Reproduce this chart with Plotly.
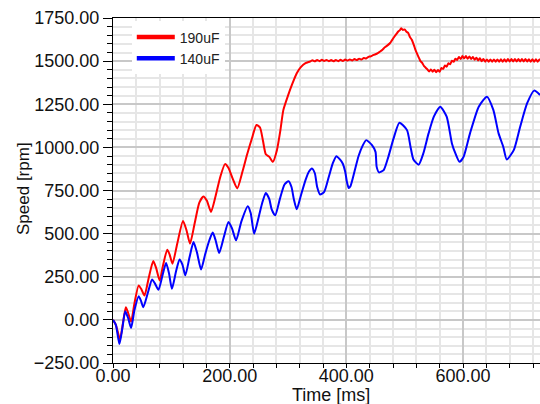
import plotly.graph_objects as go

red_t = [0, 5, 12, 17, 22, 26, 31, 37, 44, 49, 54, 61, 69, 74, 80, 86, 93, 97, 102, 110,
         120, 126, 132, 140, 148, 155, 161, 168, 176, 184, 192, 198, 205, 213, 222, 230,
         238, 246, 252, 257, 262, 268, 274, 281, 287, 292, 300, 307, 315, 322, 330, 338,
         342, 346, 350, 354, 358, 362, 366, 370, 374, 378, 382, 386, 390, 394, 398, 402,
         406, 410, 414, 418, 422, 426, 430, 434, 438, 441, 445, 450, 454, 458, 462, 466,
         470, 475, 478, 482, 486, 489, 492, 494, 497, 500, 503, 506, 509, 512, 515, 518,
         521, 524, 527, 530, 533, 536, 539, 542, 545, 548, 551, 554, 557, 560, 563, 566,
         569, 572, 575, 578, 581, 584, 587, 590, 593, 596, 599, 602, 605, 608, 611, 614,
         617, 620, 623, 626, 629, 632, 635, 638, 641, 644, 647, 650, 653, 656, 659, 662,
         665, 668, 671, 674, 677, 680, 683, 686, 689, 692, 695, 698, 701, 704, 707, 710,
         713, 716, 719, 722, 725, 728, 731, 734]
red_v = [0, -30, -112, -20, 73, 40, -10, 100, 200, 175, 141, 240, 341, 300, 228, 320, 407, 380, 326, 440,
         573, 520, 442, 560, 680, 715, 690, 626, 720, 830, 903, 880, 820, 762, 860, 960,
         1050, 1130, 1115, 1040, 960, 945, 916, 984, 1100, 1216, 1300, 1365, 1430, 1465, 1488, 1498,
         1505, 1499, 1507, 1500, 1508, 1501, 1507, 1500, 1506, 1499, 1507, 1500, 1508, 1501, 1509, 1503,
         1510, 1504, 1512, 1506, 1514, 1509, 1518, 1515, 1525, 1527, 1533, 1540, 1547, 1556, 1566, 1580,
         1590, 1605, 1620, 1640, 1658, 1672, 1680, 1690, 1680, 1684, 1670, 1664, 1640, 1625, 1600, 1570,
         1545, 1522, 1500, 1490, 1472, 1462, 1452, 1440, 1452, 1438, 1450, 1436, 1448, 1438, 1460, 1455,
         1475, 1468, 1488, 1482, 1502, 1496, 1514, 1507, 1524, 1512, 1529, 1516, 1529, 1514, 1527, 1512,
         1524, 1508, 1520, 1504, 1516, 1500, 1512, 1497, 1510, 1496, 1510, 1496, 1510, 1496, 1510, 1497,
         1511, 1497, 1511, 1497, 1512, 1498, 1512, 1498, 1512, 1498, 1512, 1498, 1512, 1498, 1512, 1498,
         1511, 1497, 1511, 1497, 1511, 1497, 1510, 1500]

blue_t = [0, 5, 11, 16, 21, 26, 31, 37, 44, 48, 52, 60, 67, 72, 78, 85, 91, 96, 101, 108,
          114, 119, 124, 131, 138, 144, 151, 158, 165, 171, 176, 182, 190, 198, 204, 211,
          220, 231, 236, 242, 250, 256, 262, 268, 272, 278, 286, 294, 301, 306, 310, 315,
          322, 330, 336, 341, 346, 350, 355, 362, 370, 377, 383, 389, 394, 398, 401, 404,
          407, 414, 421, 428, 434, 444, 450, 452, 456, 464, 472, 481, 491, 504, 510, 515,
          524, 532, 541, 550, 561, 572, 581, 587, 594, 601, 612, 627, 641, 652, 661, 669,
          675, 687, 698, 710, 722, 732]
blue_v = [0, -30, -140, -50, 50, 10, -47, 60, 137, 110, 73, 160, 234, 210, 174, 260, 329, 270, 180, 280,
          350, 320, 258, 360, 451, 390, 292, 380, 460, 506, 460, 387, 480, 567, 530, 461,
          570, 659, 620, 500, 600, 680, 736, 700, 640, 606, 700, 785, 804, 770, 700, 641,
          720, 810, 860, 878, 850, 770, 727, 742, 830, 910, 949, 930, 905, 860, 800, 765,
          775, 860, 950, 1010, 1042, 1013, 974, 887, 855, 868, 945, 1052, 1143, 1100, 1004, 930,
          900, 965, 1081, 1178, 1236, 1178, 1023, 965, 916, 945, 1081, 1236, 1294, 1217, 1081, 1004,
          930, 984, 1120, 1256, 1329, 1304]

names = ["190uF", "140uF"]
colors = ["#ff0000", "#0000ff"]

font_family = "Arial, Liberation Sans, sans-serif"

fig = go.Figure()
fig.add_trace(go.Scatter(x=red_t, y=red_v, mode="lines", line=dict(color=colors[0], width=2, shape="spline", smoothing=0.6), showlegend=False))
fig.add_trace(go.Scatter(x=blue_t, y=blue_v, mode="lines", line=dict(color=colors[1], width=2, shape="spline", smoothing=0.6), showlegend=False))
# legend entries (thicker swatches)
for n, c in zip(names, colors):
    fig.add_trace(go.Scatter(x=[None], y=[None], mode="lines", name=n, line=dict(color=c, width=4.5)))

axis_common = dict(
    showline=True, linecolor="black", linewidth=1,
    ticks="outside", tickcolor="black", tickwidth=1,
    tickfont=dict(family=font_family, size=18, color="#111111"),
    gridcolor="#c8c8c8", gridwidth=1.5,
    zeroline=False, tickformat=".2f",
)

fig.update_xaxes(range=[0, 732], dtick=200, tick0=0, ticklen=4, mirror=True,
                 ticklabelstandoff=-8,
                 minor=dict(dtick=40, showgrid=True, gridcolor="#e6e6e6", gridwidth=1.5,
                            ticks="outside", ticklen=4, tickcolor="black"),
                 **axis_common)
fig.update_yaxes(range=[-250, 1750], dtick=250, tick0=0, ticklen=9,
                 minor=dict(dtick=50, showgrid=True, gridcolor="#e6e6e6", gridwidth=1.5,
                            ticks="outside", ticklen=5, tickcolor="black"),
                 **axis_common)

fig.update_layout(
    width=540, height=404,
    margin=dict(l=113, r=0, t=18, b=41),
    plot_bgcolor="white", paper_bgcolor="white",
    legend=dict(x=0.044, y=0.99, xanchor="left", yanchor="top",
                bgcolor="white", borderwidth=0, itemwidth=38,
                font=dict(family=font_family, size=14, color="#222222")),
    annotations=[
        dict(text="Time [ms]", xref="paper", yref="paper", x=0.51, y=-0.094,
             xanchor="center", yanchor="middle", showarrow=False,
             font=dict(family=font_family, size=18, color="#111111")),
        dict(text="Speed [rpm]", xref="paper", yref="paper", x=-0.211, y=0.507,
             xanchor="center", yanchor="middle", showarrow=False, textangle=-90,
             font=dict(family=font_family, size=17, color="#111111")),
    ],
)

fig.write_html("out.html", config={"displayModeBar": False},
               post_script="document.body.style.margin='0px';document.body.style.overflow='hidden';")
